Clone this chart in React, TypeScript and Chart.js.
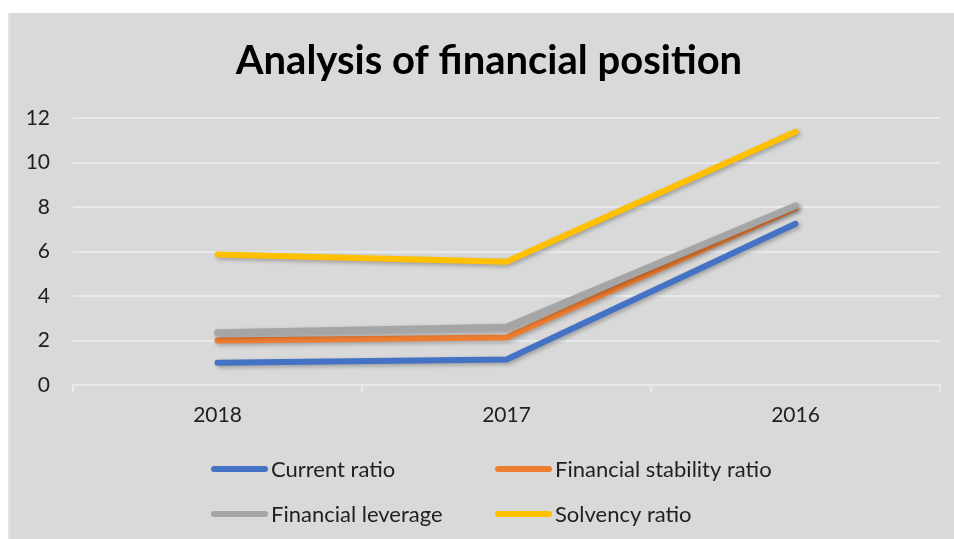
import React, { useEffect, useRef } from "react";
import { Chart, registerables } from "chart.js";

Chart.register(...registerables);

const chartTitle = "Analysis of financial position";
const categories = ["2018", "2017", "2016"];
const currentRatio = [1.0, 1.15, 7.25];
const financialStabilityRatio = [2.0, 2.13, 7.95];
const financialLeverage = [2.35, 2.6, 8.05];
const solvencyRatio = [5.87, 5.54, 11.38];
const seriesLabels = ["Current ratio", "Financial stability ratio", "Financial leverage", "Solvency ratio"];
const seriesColors = ["#4472C4", "#ED7D31", "#A5A5A5", "#FFC000"];
const yTicks = [0, 2, 4, 6, 8, 10, 12];

const FONT = "Lato, 'Open Sans', sans-serif";
const TEXT = "#1f1f1f";
const GRID = "#e6e9ee";

const backgroundPlugin = {
  id: "panelBg",
  beforeDraw(chart: any) {
    const { ctx, width, height } = chart;
    ctx.save();
    ctx.fillStyle = "#ffffff";
    ctx.fillRect(0, 0, width, height);
    ctx.fillStyle = "#d9d9d9";
    ctx.fillRect(8, 13, width - 8, height - 13);
    ctx.fillStyle = "#dfe3e8";
    ctx.fillRect(8, 13, 2, height - 13);
    ctx.restore();
  },
};

const shadowPlugin = {
  id: "lineShadow",
  beforeDatasetDraw(chart: any) {
    const ctx = chart.ctx;
    ctx.save();
    ctx.shadowColor = "rgba(0,0,0,0.28)";
    ctx.shadowBlur = 4;
    ctx.shadowOffsetX = 2;
    ctx.shadowOffsetY = 2;
  },
  afterDatasetDraw(chart: any) {
    chart.ctx.restore();
  },
};

const titlePlugin = {
  id: "panelTitle",
  afterDraw(chart: any) {
    const ctx = chart.ctx;
    ctx.save();
    ctx.font = `bold 40px ${FONT}`;
    ctx.fillStyle = "#000000";
    ctx.textAlign = "center";
    ctx.textBaseline = "middle";
    ctx.fillText(chartTitle, 489, 61);
    ctx.restore();
  },
};

const gridLegendPlugin = {
  id: "gridLegend",
  afterDraw(chart: any) {
    const ctx = chart.ctx;
    const cols = [211, 495];
    const rows = [469, 514];
    ctx.save();
    ctx.font = `22px ${FONT}`;
    ctx.textBaseline = "middle";
    ctx.textAlign = "left";
    chart.data.datasets.forEach((ds: any, i: number) => {
      const x = cols[i % 2];
      const y = rows[Math.floor(i / 2)];
      ctx.strokeStyle = ds.borderColor;
      ctx.lineWidth = 6;
      ctx.lineCap = "round";
      ctx.beginPath();
      ctx.moveTo(x + 3, y);
      ctx.lineTo(x + 54, y);
      ctx.stroke();
      ctx.fillStyle = TEXT;
      ctx.fillText(ds.label, x + 60, y + 1);
    });
    ctx.restore();
  },
};

export default function App() {
  const ref = useRef<HTMLCanvasElement>(null);
  useEffect(() => {
    if (!ref.current) return;
    const values = [currentRatio, financialStabilityRatio, financialLeverage, solvencyRatio];
    const chart = new Chart(ref.current, {
      type: "line",
      data: {
        labels: categories,
        datasets: values.map((v, i) => ({
          label: seriesLabels[i],
          data: v,
          borderColor: seriesColors[i],
          backgroundColor: seriesColors[i],
          borderWidth: i === 2 ? 7 : 6,
          borderCapStyle: "round" as const,
          borderJoinStyle: "round" as const,
          pointRadius: 0,
          tension: 0,
          order: 4 - i,
        })),
      },
      options: {
        responsive: false,
        animation: false,
        layout: { padding: { left: 0, right: 14, top: 118, bottom: 104 } },
        plugins: {
          legend: { display: false },
          tooltip: { enabled: false },
          title: { display: false },
        },
        scales: {
          x: {
            offset: true,
            grid: {
              offset: true,
              drawOnChartArea: false,
              drawTicks: true,
              tickLength: 7,
              color: GRID,
              lineWidth: 2,
            },
            border: { display: true, color: GRID, width: 2 },
            ticks: { color: TEXT, font: { family: FONT, size: 21 }, padding: 11 },
            afterFit(scale: any) {
              scale.height = 50;
            },
          },
          y: {
            min: 0,
            max: 12,
            afterBuildTicks(scale: any) {
              scale.ticks = yTicks.map((v) => ({ value: v }));
            },
            grid: { color: GRID, lineWidth: 2, drawTicks: false },
            border: { display: false },
            ticks: { color: TEXT, font: { family: FONT, size: 21 }, padding: 23 },
            afterFit(scale: any) {
              scale.width = 73;
            },
          },
        },
      },
      plugins: [backgroundPlugin, shadowPlugin, titlePlugin, gridLegendPlugin],
    });
    return () => chart.destroy();
  }, []);
  return (
    <div style={{ position: "fixed", left: 0, top: 0, width: 954, height: 539 }}>
      <canvas ref={ref} width={954} height={539} style={{ display: "block" }} />
    </div>
  );
}
